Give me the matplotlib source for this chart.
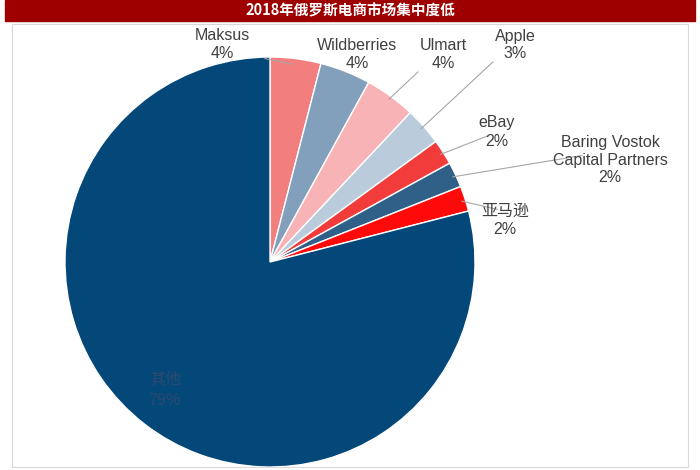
import matplotlib
matplotlib.use("Agg")
import matplotlib.pyplot as plt
import numpy as np
from matplotlib.patches import Rectangle

plt.rcParams['font.family'] = ['Liberation Sans', 'Noto Sans CJK SC', 'DejaVu Sans']

labels = ["Maksus", "Wildberries", "Ulmart", "Apple", "eBay", "Baring Vostok\nCapital Partners", "亚马逊", "其他"]
values = [4, 4, 4, 3, 2, 2, 2, 79]
pct_text = ["4%", "4%", "4%", "3%", "2%", "2%", "2%", "79%"]
colors = ["#F27E7E", "#829FBC", "#F7B3B6", "#BACCDC", "#F23B3B", "#2F6088", "#FF0A0A", "#04487A"]
title = "2018年俄罗斯电商市场集中度低"

W, H = 700, 470
fig = plt.figure(figsize=(W/100, H/100), dpi=100)
def px(x, y):
    return x / W, 1 - y / H

fig.add_artist(Rectangle((5/W, 1-21/H), 690/W, 21/H, transform=fig.transFigure, color="#9E0000", zorder=0))
fig.text(*px(350, 10), title, color="white", fontsize=10.5, fontweight="bold", ha="center", va="center",
         family=['Noto Sans CJK SC', 'DejaVu Sans'])
fig.add_artist(Rectangle((12/W, 3/H), 676/W, (1-24/H)-3/H, transform=fig.transFigure, fill=False, ec="#D9D9D9", lw=0.8))

ax = fig.add_axes([65/W, 3/H, 410/W, 410/H])
wedges, _ = ax.pie(values, colors=colors, startangle=90, counterclock=False,
                   wedgeprops=dict(edgecolor="white", linewidth=1))
ax.set_xlim(-1, 1); ax.set_ylim(-1, 1)

label_pos = [(222, 45), (357, 55), (443, 55), (515, 45), (497, 132), (610, 160), (505, 220)]
anchor = [(262, 58), (345, 70), (420, 70), (495, 60), (490, 135), (585, 155), (500, 210)]
for i, w in enumerate(wedges[:-1]):
    t = np.deg2rad((w.theta1 + w.theta2) / 2)
    xy = (np.cos(t) * 0.97, np.sin(t) * 0.97)
    txt = labels[i] + "\n" + pct_text[i]
    fig.text(*px(*label_pos[i]), txt, ha="center", va="center", fontsize=11.5, color="#404040", linespacing=1.25,
             family=['Liberation Sans', 'Noto Sans CJK SC', 'DejaVu Sans'])
    ax.annotate("", xy=xy, xycoords="data", xytext=px(*anchor[i]), textcoords="figure fraction",
                arrowprops=dict(arrowstyle="-", color="#A6A6A6", lw=0.8))
fig.text(*px(165, 390), "其他\n79%", ha="center", va="center", fontsize=11.5, color="#2B4A6E", linespacing=1.3,
         family=['Noto Sans CJK SC', 'DejaVu Sans'])

fig.savefig("out.png", dpi=100)
